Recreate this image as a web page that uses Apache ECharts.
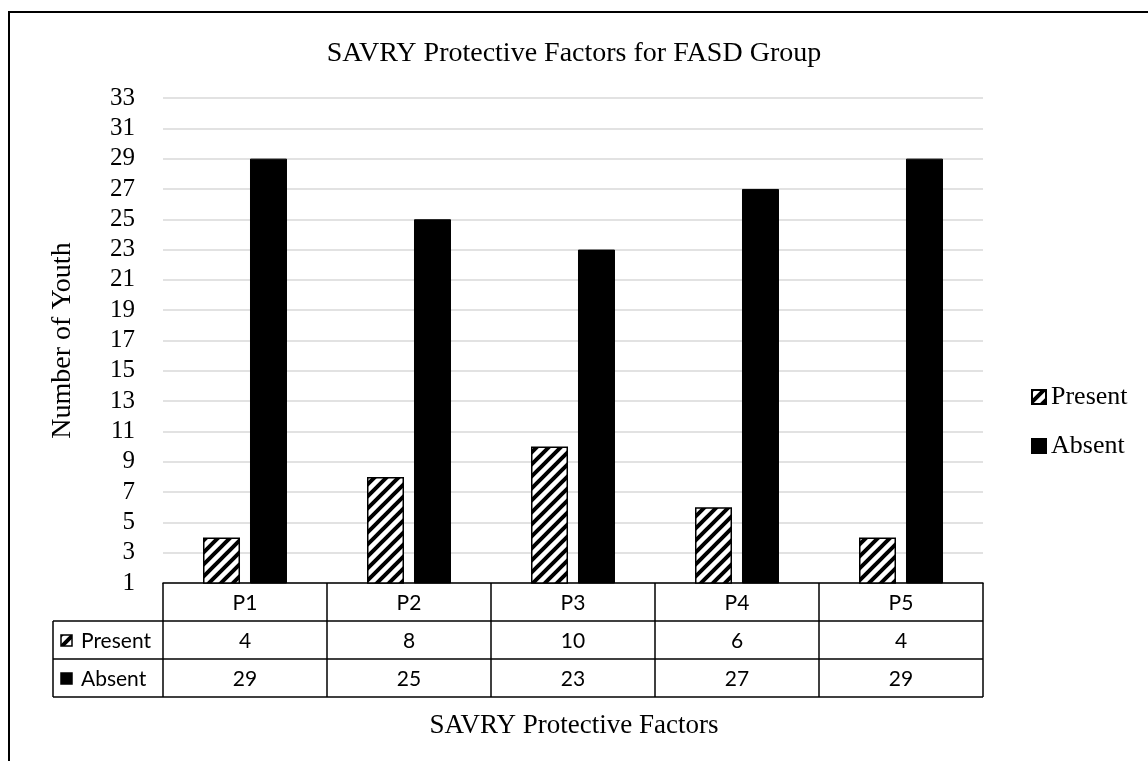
<!DOCTYPE html>
<html><head><meta charset="utf-8">
<script src="https://cdn.jsdelivr.net/npm/echarts@6/dist/echarts.min.js"></script>
<style>html,body{margin:0;padding:0;background:#fff}#c{width:1148px;height:761px}</style>
</head><body><div id="c"></div>
<script>
const categories = ['P1', 'P2', 'P3', 'P4', 'P5'];
const presentValues = [4, 8, 10, 6, 4];
const absentValues = [29, 25, 23, 27, 29];
const seriesNames = ['Present', 'Absent'];
const yMin = 1, yMax = 33, yStep = 2;
const chartTitle = 'SAVRY Protective Factors for FASD Group';
const xTitle = 'SAVRY Protective Factors';
const yTitle = 'Number of Youth';

const SERIF = '"Liberation Serif", "Times New Roman", serif';
const SANS = 'Lato, "Open Sans", sans-serif';

function hatch() {
  const c = document.createElement('canvas');
  c.width = 12; c.height = 12;
  const g = c.getContext('2d');
  g.fillStyle = '#fff'; g.fillRect(0, 0, 12, 12);
  g.strokeStyle = '#000'; g.lineWidth = 4;
  g.beginPath();
  g.moveTo(-3, 15); g.lineTo(15, -3);
  g.moveTo(-9, 9); g.lineTo(9, -9);
  g.moveTo(3, 21); g.lineTo(21, 3);
  g.stroke();
  return c;
}
const hatchFill = { image: hatch(), repeat: 'repeat' };

const GRID = { left: 163, right: 165, top: 98, bottom: 178 };
const chart = echarts.init(document.getElementById('c'), null, { renderer: 'canvas' });

chart.setOption({
  animation: false,
  backgroundColor: '#fff',
  title: [
    { text: chartTitle, left: 'center', top: 35, textStyle: { fontFamily: SERIF, fontSize: 28, fontWeight: 'normal', color: '#000' } },
    { text: xTitle, left: 'center', top: 707, textStyle: { fontFamily: SERIF, fontSize: 27, fontWeight: 'normal', color: '#000' } }
  ],
  legend: {
    orient: 'vertical', left: 1026, top: 379,
    itemWidth: 14, itemHeight: 14, itemGap: 23,
    icon: 'rect',
    textStyle: { fontFamily: SERIF, fontSize: 26, color: '#000', lineHeight: 26 },
    data: seriesNames
  },
  grid: GRID,
  xAxis: {
    type: 'category', data: categories,
    axisLine: { lineStyle: { color: '#000', width: 1.5 } },
    axisTick: { show: false },
    axisLabel: { show: false }
  },
  yAxis: {
    type: 'value', min: yMin, max: yMax, interval: yStep,
    name: yTitle, nameLocation: 'middle', nameGap: 86,
    nameTextStyle: { fontFamily: SERIF, fontSize: 28, color: '#000' },
    axisLine: { show: false }, axisTick: { show: false },
    axisLabel: { fontFamily: SERIF, fontSize: 25, color: '#000', margin: 28 },
    splitLine: { lineStyle: { color: '#d9d9d9', width: 1.5 } }
  },
  series: [
    { name: seriesNames[0], type: 'bar', data: presentValues, barWidth: 37, barGap: '27%',
      itemStyle: { color: hatchFill, borderColor: '#000', borderWidth: 1.5 } },
    { name: seriesNames[1], type: 'bar', data: absentValues, barWidth: 37,
      itemStyle: { color: '#000', borderColor: '#000', borderWidth: 1 } }
  ]
});

// Data table below the plot, aligned with the category axis
const gl = GRID.left, gr = 1148 - GRID.right, axisY = 761 - GRID.bottom;
const rowH = 38, labelLeft = 53;
const n = categories.length;
const colW = (gr - gl) / n;
const els = [];
const line = (x1, y1, x2, y2) => els.push({ type: 'line', silent: true, shape: { x1, y1, x2, y2 }, style: { stroke: '#000', lineWidth: 1.5 } });
const txt = (x, y, t, align) => els.push({ type: 'text', silent: true, style: { x, y, text: String(t), fontFamily: SANS, fontSize: 21, fill: '#000', align: align || 'center', verticalAlign: 'middle' } });

line(labelLeft, axisY + rowH, gr, axisY + rowH);
line(labelLeft, axisY + 2 * rowH, gr, axisY + 2 * rowH);
line(labelLeft, axisY + 3 * rowH, gr, axisY + 3 * rowH);
line(labelLeft, axisY + rowH, labelLeft, axisY + 3 * rowH);
for (let i = 0; i <= n; i++) line(gl + i * colW, axisY, gl + i * colW, axisY + 3 * rowH);
const rows = [presentValues, absentValues];
for (let i = 0; i < n; i++) {
  const cx = chart.convertToPixel({ xAxisIndex: 0 }, categories[i]);
  txt(cx, axisY + rowH / 2 + 1, categories[i]);
  rows.forEach((r, k) => txt(cx, axisY + rowH * (k + 1.5) + 1, r[i]));
}
seriesNames.forEach((nm, k) => {
  const cy = axisY + rowH * (k + 1.5);
  els.push({ type: 'rect', silent: true, shape: { x: 61, y: cy - 5, width: 11, height: 11 },
    style: { fill: k === 0 ? hatchFill : '#000', stroke: '#000', lineWidth: 1.5 } });
  txt(81, cy + 1, nm, 'left');
});
els.push({ type: 'rect', silent: true, shape: { x: 9, y: 12, width: 1300, height: 900 }, style: { fill: null, stroke: '#000', lineWidth: 2 } });
chart.setOption({ graphic: els });
</script>
</body></html>
